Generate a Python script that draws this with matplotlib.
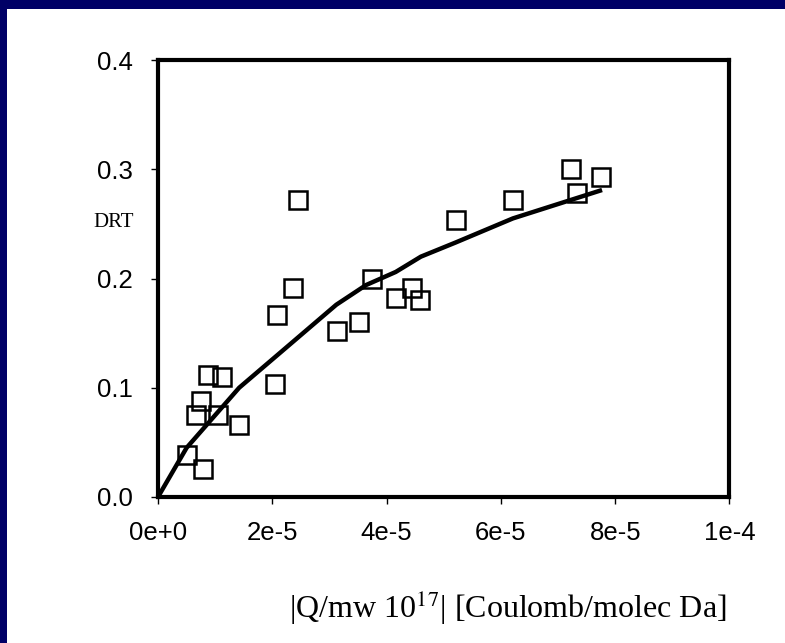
import matplotlib.pyplot as plt
from matplotlib.patches import Rectangle

# measured points (x = |Q/mw|, y = DRT)
charge = [0.50e-5, 0.66e-5, 0.75e-5, 0.79e-5, 0.87e-5, 1.05e-5, 1.12e-5, 1.42e-5,
          2.04e-5, 2.08e-5, 2.37e-5, 2.45e-5, 3.13e-5, 3.51e-5, 3.75e-5, 4.16e-5,
          4.45e-5, 4.58e-5, 5.21e-5, 6.21e-5, 7.22e-5, 7.34e-5, 7.76e-5]
drt = [0.038, 0.075, 0.088, 0.026, 0.112, 0.075, 0.110, 0.066,
       0.103, 0.167, 0.191, 0.272, 0.152, 0.160, 0.200, 0.182,
       0.191, 0.180, 0.254, 0.272, 0.300, 0.278, 0.293]

# fitted curve
fit_x = [0.0, 0.50e-5, 1.42e-5, 2.36e-5, 3.12e-5, 3.64e-5, 4.16e-5, 4.60e-5,
         5.21e-5, 6.21e-5, 7.77e-5]
fit_y = [0.0, 0.045, 0.100, 0.142, 0.176, 0.194, 0.206, 0.220,
         0.233, 0.255, 0.281]

xticks = [0, 2e-5, 4e-5, 6e-5, 8e-5, 1e-4]
xtick_labels = ['0e+0', '2e-5', '4e-5', '6e-5', '8e-5', '1e-4']
yticks = [0.0, 0.1, 0.2, 0.3, 0.4]
ytick_labels = ['0.0', '0.1', '0.2', '0.3', '0.4']

fig = plt.figure(figsize=(7.85, 6.43), dpi=100)
fig.patch.set_facecolor('white')

# navy frame strips on the left and top
fig.patches.append(Rectangle((0, 0), 7 / 785, 1, transform=fig.transFigure,
                             facecolor='#000066', edgecolor='none', zorder=0))
fig.patches.append(Rectangle((0, 1 - 9 / 643), 1, 9 / 643, transform=fig.transFigure,
                             facecolor='#000066', edgecolor='none', zorder=0))

ax = fig.add_axes([158 / 785, 146 / 643, 571.5 / 785, 437 / 643])

ax.plot(fit_x, fit_y, color='black', linewidth=3.2, solid_capstyle='butt', zorder=3)
ax.plot(charge, drt, linestyle='none', marker='s', markersize=13.5,
        markerfacecolor='none', markeredgecolor='black', markeredgewidth=1.8, zorder=4)

ax.set_xlim(0, 1e-4)
ax.set_ylim(0, 0.4)
ax.set_xticks(xticks)
ax.set_xticklabels(xtick_labels, fontfamily='Liberation Sans', fontsize=18.5)
ax.set_yticks(yticks)
ax.set_yticklabels(ytick_labels, fontfamily='Liberation Sans', fontsize=18.5)
ax.tick_params(direction='out', length=5, width=1, color='black')
ax.tick_params(axis='x', pad=12)
ax.tick_params(axis='y', pad=13)

for s in ax.spines.values():
    s.set_linewidth(3)
    s.set_color('black')

fig.text(114 / 785, 1 - 222 / 643, 'DRT', fontfamily='Liberation Serif', fontsize=15,
         ha='center', va='center')
fig.text(508 / 785, 1 - 608 / 643, r'|Q/mw 10$^{17}$| [Coulomb/molec Da]',
         fontfamily='Liberation Serif', fontsize=23, ha='center', va='center',
         math_fontfamily='stix')

fig.savefig('out.png', dpi=100)
